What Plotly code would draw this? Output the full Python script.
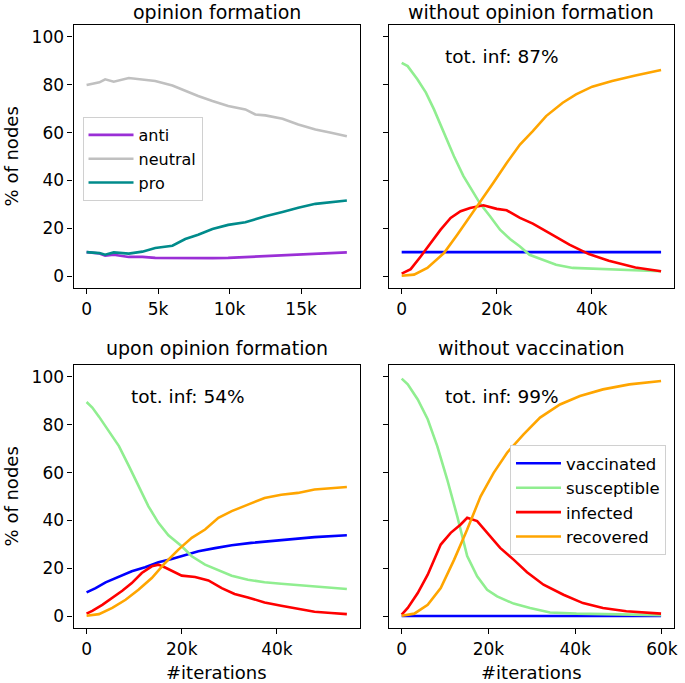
import plotly.graph_objects as go

# ---------------- data ----------------
# Panel 1: opinion formation
op_x = [0, 900, 1300, 1900, 2950, 3900, 4800, 6000, 6900, 7800, 8800, 9900, 11100, 11800, 12500, 13700, 14800, 16000, 17100, 18200]
op_neutral = [79.9, 81.0, 82.3, 81.3, 82.8, 82.3, 81.6, 79.7, 77.4, 75.3, 73.2, 71.1, 69.7, 67.6, 67.2, 65.8, 63.4, 61.3, 59.9, 58.5]
op_pro = [10.0, 9.6, 8.9, 9.9, 9.4, 10.2, 11.7, 12.7, 15.5, 17.3, 19.7, 21.4, 22.5, 23.9, 25.0, 26.8, 28.6, 30.2, 30.9, 31.6]
op_anti = [10.0, 9.4, 8.5, 8.9, 8.0, 8.0, 7.6, 7.5, 7.5, 7.4, 7.5, 7.6, 7.9, 8.2, 8.5, 8.7, 8.9, 9.1, 9.5, 9.9]

# Panel 2: without opinion formation
w_x = [0, 1250, 3300, 5100, 6800, 8900, 11000, 13000, 15100, 16500, 18600, 20700, 22800, 24900, 26900, 29700, 32500, 36000, 42200, 49200, 54600]
w_vacc = [10.0] * 21
w_sus = [89.2, 87.8, 82.3, 76.7, 69.7, 59.9, 50.1, 41.8, 34.8, 30.3, 25.0, 19.4, 15.5, 12.4, 8.9, 6.8, 4.7, 3.4, 2.9, 2.4, 2.0]
w_inf_x = [0, 1900, 4000, 6100, 8200, 10300, 12400, 14400, 17200, 20000, 22100, 24900, 27600, 31100, 35300, 39400, 43600, 49200, 54600]
w_inf = [1.0, 2.9, 8.2, 13.8, 19.4, 24.3, 27.1, 28.5, 29.6, 28.1, 27.5, 24.3, 21.9, 18.0, 13.1, 9.2, 6.4, 3.6, 2.0]
w_rec_x = [0, 2600, 5400, 8900, 11700, 14400, 16500, 19300, 22100, 24900, 27600, 30400, 33900, 36700, 40100, 44300, 49200, 54600]
w_rec = [0.1, 0.6, 3.4, 9.6, 17.3, 25.0, 30.6, 39.0, 47.3, 55.0, 60.6, 66.9, 72.5, 76.0, 79.2, 81.6, 83.9, 86.2]

# Panel 3: upon opinion formation
u_sus_x = [0, 1200, 2600, 4700, 6800, 8900, 10900, 13000, 15100, 17200, 20000, 22100, 24900, 27700, 30500, 33900, 37400, 40900, 44400, 47900, 51400, 54700]
u_sus = [89.5, 87.2, 83.4, 77.4, 71.1, 62.7, 54.3, 45.9, 39.0, 33.8, 29.2, 25.0, 21.5, 19.1, 16.9, 15.2, 14.1, 13.5, 13.0, 12.4, 11.9, 11.3]
u_vac_x = [0, 1900, 4000, 6800, 9500, 12300, 15100, 17900, 20700, 23500, 27000, 30500, 34600, 38800, 43000, 47900, 54700]
u_vac = [9.9, 11.7, 14.1, 16.3, 18.7, 20.4, 22.5, 23.9, 25.6, 27.1, 28.4, 29.6, 30.6, 31.3, 32.3, 33.0, 33.8]
u_inf_x = [0, 1200, 3300, 5400, 7500, 9500, 11600, 13700, 15100, 16500, 18600, 20000, 22800, 25600, 28400, 31100, 33900, 37400, 40900, 44400, 47900, 51400, 54700]
u_inf = [1.0, 2.2, 4.7, 7.5, 10.6, 13.8, 18.0, 20.8, 21.5, 20.3, 18.3, 16.9, 16.3, 14.9, 11.7, 9.2, 7.8, 5.7, 4.3, 3.2, 1.8, 1.3, 0.8]
u_rec_x = [0, 2600, 5400, 8200, 10900, 13700, 16500, 19300, 22100, 24900, 27700, 30500, 33900, 37400, 40900, 44400, 47900, 51400, 54700]
u_rec = [0.1, 0.8, 3.4, 6.8, 11.0, 15.9, 22.2, 27.8, 32.7, 36.2, 41.1, 43.9, 46.6, 49.4, 50.7, 51.5, 52.9, 53.5, 54.0]

# Panel 4: without vaccination
n_vac_x = [0, 59800]
n_vac = [0.0, 0.0]
n_sus_x = [0, 1400, 3700, 6000, 8200, 10500, 12800, 15100, 17400, 19700, 22000, 25800, 29600, 34200, 40300, 50200, 59800]
n_sus = [99.3, 96.9, 90.6, 82.3, 71.1, 57.1, 41.8, 25.1, 16.6, 11.0, 8.2, 5.2, 3.4, 1.5, 1.0, 0.6, 0.4]
n_inf_x = [0, 1400, 3700, 6000, 9000, 11300, 13600, 15100, 17400, 19700, 22700, 25800, 28900, 32700, 37300, 41800, 46400, 51800, 59800]
n_inf = [0.6, 3.4, 9.6, 17.3, 29.9, 34.8, 38.3, 41.1, 39.7, 34.8, 28.5, 23.6, 18.3, 13.1, 8.9, 5.4, 3.4, 2.0, 1.0]
n_rec_x = [0, 2900, 6000, 9000, 12100, 15100, 18200, 21200, 24300, 28100, 31900, 36500, 41100, 46400, 52500, 59800]
n_rec = [0.1, 1.0, 4.7, 11.7, 23.6, 36.2, 50.1, 59.9, 68.3, 76.0, 83.0, 88.5, 92.0, 94.8, 96.9, 98.3]

titles = ["opinion formation", "without opinion formation", "upon opinion formation", "without vaccination"]
tot_inf = ["tot. inf: 87%", "tot. inf: 54%", "tot. inf: 99%"]
y_ticks = [0, 20, 40, 60, 80, 100]
x1_ticks = [0, 5000, 10000, 15000]
x1_labels = ["0", "5k", "10k", "15k"]
x_ticks = [0, 20000, 40000, 60000]
x_labels = ["0", "20k", "40k", "60k"]

C_ANTI = "#9a2fd6"
C_NEUT = "#c0c0c0"
C_PRO = "#008b8b"
C_VAC = "#0000ff"
C_SUS = "#90ee90"
C_INF = "#ff0000"
C_REC = "#ffa500"

FONT = "DejaVu Sans"
LW = 2.6

fig = go.Figure()

def line(x, y, color, xa, ya, name, show=False, legend="legend"):
    fig.add_trace(go.Scatter(x=x, y=y, mode="lines", line=dict(color=color, width=LW),
                             xaxis=xa, yaxis=ya, name=name, showlegend=show, legend=legend))

line(op_x, op_anti, C_ANTI, "x", "y", "anti", True, "legend")
line(op_x, op_neutral, C_NEUT, "x", "y", "neutral", True, "legend")
line(op_x, op_pro, C_PRO, "x", "y", "pro", True, "legend")

line(w_x, w_vacc, C_VAC, "x2", "y2", "vaccinated")
line(w_x, w_sus, C_SUS, "x2", "y2", "susceptible")
line(w_inf_x, w_inf, C_INF, "x2", "y2", "infected")
line(w_rec_x, w_rec, C_REC, "x2", "y2", "recovered")

line(u_vac_x, u_vac, C_VAC, "x3", "y3", "vaccinated")
line(u_sus_x, u_sus, C_SUS, "x3", "y3", "susceptible")
line(u_inf_x, u_inf, C_INF, "x3", "y3", "infected")
line(u_rec_x, u_rec, C_REC, "x3", "y3", "recovered")

line(n_vac_x, n_vac, C_VAC, "x4", "y4", "vaccinated", True, "legend2")
line(n_sus_x, n_sus, C_SUS, "x4", "y4", "susceptible", True, "legend2")
line(n_inf_x, n_inf, C_INF, "x4", "y4", "infected", True, "legend2")
line(n_rec_x, n_rec, C_REC, "x4", "y4", "recovered", True, "legend2")

W, H = 685, 683
def px_x(p): return p / W
def px_y(p): return 1 - p / H

L1, R1, L2, R2 = 74, 362, 391, 678
T1, B1, T2, B2 = 25, 288, 365, 628

axbase = dict(showline=True, mirror=True, linecolor="black", linewidth=1.2,
              ticks="outside", ticklen=5, tickwidth=1.2, tickcolor="black",
              showgrid=False, zeroline=False,
              tickfont=dict(family=FONT, size=17, color="black"))

def xaxis(dom, rng, tv, tt, anchor):
    d = dict(axbase); d.update(domain=dom, range=rng, tickvals=tv, ticktext=tt, anchor=anchor)
    return d

def yaxis(dom, anchor, labels=True):
    d = dict(axbase); d.update(domain=dom, range=[-5, 105], tickvals=y_ticks, anchor=anchor,
                               showticklabels=labels)
    return d

fig.update_layout(
    width=W, height=H, margin=dict(l=0, r=0, t=0, b=0),
    paper_bgcolor="white", plot_bgcolor="white",
    font=dict(family=FONT, color="black"),
    xaxis=xaxis([px_x(L1), px_x(R1)], [-910, 19110], x1_ticks, x1_labels, "y"),
    yaxis=yaxis([px_y(B1), px_y(T1)], "x"),
    xaxis2=xaxis([px_x(L2), px_x(R2)], [-2730, 57330], x_ticks[:3], x_labels[:3], "y2"),
    yaxis2=yaxis([px_y(B1), px_y(T1)], "x2", False),
    xaxis3=xaxis([px_x(L1), px_x(R1)], [-2735, 57435], x_ticks[:3], x_labels[:3], "y3"),
    yaxis3=yaxis([px_y(B2), px_y(T2)], "x3"),
    xaxis4=xaxis([px_x(L2), px_x(R2)], [-2990, 62790], x_ticks, x_labels, "y4"),
    yaxis4=yaxis([px_y(B2), px_y(T2)], "x4", False),
    legend=dict(x=px_x(83), y=px_y(117), xanchor="left", yanchor="top",
                bgcolor="white", bordercolor="#d0d0d0", borderwidth=1,
                font=dict(family=FONT, size=16, color="black"),
                tracegroupgap=0, itemwidth=45),
    legend2=dict(x=px_x(513), y=px_y(445), xanchor="left", yanchor="top",
                 bgcolor="white", bordercolor="#d0d0d0", borderwidth=1,
                 font=dict(family=FONT, size=16.5, color="black"),
                 tracegroupgap=0, itemwidth=45),
)

ann = []
tcx = [(L1 + R1) / 2, (L2 + R2) / 2]
for i, t in enumerate(titles):
    cx = tcx[i % 2]
    cy = 12 if i < 2 else 348
    ann.append(dict(text=t, x=px_x(cx), y=px_y(cy), xref="paper", yref="paper",
                    xanchor="center", yanchor="middle", showarrow=False,
                    font=dict(family=FONT, size=19, color="black")))
for t, (cx, cy) in zip(tot_inf, [(505, 56), (189, 396), (505, 396)]):
    ann.append(dict(text=t, x=px_x(cx), y=px_y(cy), xref="paper", yref="paper",
                    xanchor="center", yanchor="middle", showarrow=False,
                    font=dict(family=FONT, size=18.5, color="black")))
for cy in [(T1 + B1) / 2, (T2 + B2) / 2]:
    ann.append(dict(text="% of nodes", x=px_x(12), y=px_y(cy), xref="paper", yref="paper",
                    xanchor="center", yanchor="middle", showarrow=False, textangle=-90,
                    font=dict(family=FONT, size=18, color="black")))
for cx in tcx:
    ann.append(dict(text="#iterations", x=px_x(cx), y=px_y(672), xref="paper", yref="paper",
                    xanchor="center", yanchor="middle", showarrow=False,
                    font=dict(family=FONT, size=18, color="black")))
fig.update_layout(annotations=ann)

fig.write_html("out.html", config={"displayModeBar": False},
               post_script="document.body.style.margin='0';document.body.style.overflow='hidden';")
